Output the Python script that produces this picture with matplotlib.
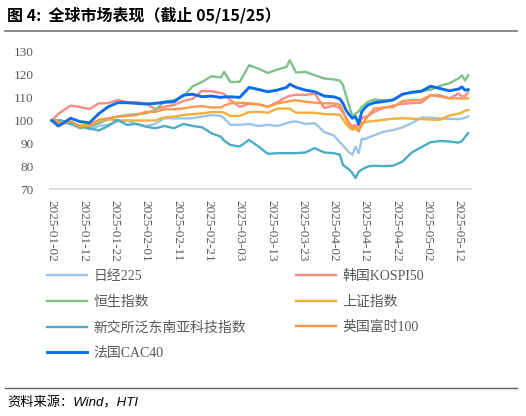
import numpy as np
import pandas as pd
import matplotlib
matplotlib.use("Agg")
import matplotlib.pyplot as plt
import matplotlib.dates as mdates

plt.rcParams['font.family'] = ['Liberation Serif', 'Noto Sans CJK SC', 'DejaVu Sans']

dates = ["2025-01-02", "2025-01-04", "2025-01-05", "2025-01-08", "2025-01-11", "2025-01-14",
         "2025-01-17", "2025-01-20", "2025-01-23", "2025-01-26", "2025-01-29", "2025-02-01",
         "2025-02-04", "2025-02-07", "2025-02-10", "2025-02-13", "2025-02-16", "2025-02-19",
         "2025-02-22", "2025-02-25", "2025-02-26", "2025-02-28", "2025-03-03", "2025-03-06",
         "2025-03-09", "2025-03-12", "2025-03-15", "2025-03-18", "2025-03-19", "2025-03-21",
         "2025-03-24", "2025-03-27", "2025-03-30", "2025-04-02", "2025-04-04", "2025-04-05",
         "2025-04-06", "2025-04-07", "2025-04-08", "2025-04-09", "2025-04-10", "2025-04-11",
         "2025-04-12", "2025-04-13", "2025-04-15", "2025-04-18", "2025-04-21", "2025-04-24",
         "2025-04-27", "2025-04-30", "2025-05-03", "2025-05-06", "2025-05-09", "2025-05-12",
         "2025-05-13", "2025-05-14", "2025-05-15"]

nikkei = [100, 99.8, 99.6, 98.5, 97.6, 96.1, 97.6, 98.1, 99.6, 100, 98.5, 97.6, 98.5, 101, 100.9,
          100.9, 101, 101.7, 102.4, 102, 101, 98.1, 98.1, 98.5, 97.6, 98.1, 97.6, 98.8, 99.3, 99.6,
          98.5, 98.8, 95, 93.5, 90.5, 89, 87.5, 86, 85, 88.6, 85.7, 92, 91.8, 92.5,
          93.5, 95.1, 95.8, 97, 98.8, 101.3, 101.2, 100.9, 100.7, 100.6, 100.8, 101.2, 101.8]
kospi = [100, 102.8, 103.8, 106.5, 105.9, 105, 107.5, 107.6, 109, 108, 108, 107.5, 105, 106, 106.8,
         108.5, 109.5, 113, 112.8, 112, 111.7, 109, 106, 107.3, 107, 106, 108, 110.3, 110.8, 111.3,
         111.2, 111.8, 105.5, 106.5, 105.5, 103.5, 101, 99, 97.3, 98, 97.5, 101, 101.5, 102,
         103.8, 105.5, 106.5, 107.3, 107.6, 107.8, 111, 110.5, 109.7, 111.8, 110.5, 110.8, 112.3]
hangseng = [100, 100, 100, 98.5, 96.6, 97.3, 98.8, 100.5, 101.7, 102.4, 102.8, 103.1, 104.6, 108.2, 108.9,
            110.5, 115, 116.9, 119.4, 118.8, 121.3, 116.9, 116.9, 124.2, 122.7, 120.8, 122.3, 123.5, 126.4, 121,
            121.3, 119.8, 118.4, 118, 117.5, 115.5, 110.8, 106.3, 101.7, 103, 104, 106, 107, 108.2,
            109.2, 108.8, 109, 111.5, 112.6, 112.8, 113.5, 115.2, 116.3, 118.5, 119.8, 117.5, 119.8]
shanghai = [100, 99, 98.5, 99.1, 97.6, 98.5, 100, 100.5, 100, 100, 100, 100, 100, 101.4, 101.7,
            102.4, 102.8, 103.1, 103.7, 103.7, 103.5, 102, 102, 103.7, 103.8, 103.4, 105.2, 105.2, 105.2, 103.4,
            103.4, 103.4, 102.8, 102.7, 102.5, 100.5, 98.5, 97, 95.9, 96.5, 95.3, 98.8, 99.2, 99.5,
            99.8, 100.3, 100.8, 101, 100.8, 100.6, 100.4, 100.3, 102.2, 103, 103.5, 104.3, 104.6]
sgx_tech = [100, 100, 100, 98.5, 97.6, 96.6, 95.6, 97.6, 100.3, 98.1, 98.5, 97.3, 96.6, 97.6, 96.6,
            98.5, 97.6, 97, 94.4, 92.9, 91.2, 89.3, 88.6, 91.5, 88.6, 85.4, 85.7, 85.7, 85.7, 85.7,
            86, 87.9, 86, 85.7, 85, 80.5, 79.5, 78.5, 77, 74.8, 77.5, 78.5, 79.2, 79.9,
            80.2, 80, 80.2, 82, 86, 88.3, 90.5, 91, 90.8, 90.3, 91, 92.8, 94.5]
ftse = [100, 99.5, 99.1, 99.6, 97.6, 97.6, 100.3, 101, 101.7, 102, 102.4, 103.8, 103.8, 104.9, 104.9,
        105.3, 106, 106.3, 105.7, 105.7, 106.5, 107.5, 107.8, 107.5, 107.2, 106, 107.5, 108.2, 108.5, 108.9,
        108.2, 107.8, 107.5, 107.5, 107, 104, 101, 98, 96.6, 97.5, 95.3, 98, 100, 102,
        105.3, 105.6, 105.8, 108.5, 108.9, 109, 111.1, 111.1, 109.7, 109.7, 109.5, 109.7, 109.7]
cac40 = [100, 97.6, 98.3, 101, 99.5, 99, 103, 106, 107.8, 107.8, 107.5, 107.2, 107.5, 108, 108.2,
         111.1, 111.5, 110.4, 110.7, 110.1, 110.3, 110.4, 110.1, 114.5, 113.6, 112.6, 113.3, 114.5, 115.9, 114.5,
         113.3, 112.6, 110.7, 110.4, 109.5, 107.5, 104.5, 102.5, 101, 101.7, 98.5, 103.9, 105.5, 106.8,
         107.8, 108.3, 109, 111.5, 112.3, 112.8, 115, 114, 113, 113.8, 114.7, 113.3, 113.5]

names = ["日经225", "韩国KOSPI50", "恒生指数", "上证指数", "新交所泛东南亚科技指数", "英国富时100", "法国CAC40"]
series = [nikkei, kospi, hangseng, shanghai, sgx_tech, ftse, cac40]
colors = ["#9DC3E6", "#FF8A84", "#7FC08A", "#F0B03C", "#4AACC6", "#F99A4A", "#0A6EE8"]
widths = [1.7, 1.7, 1.7, 1.7, 1.7, 1.7, 2.1]

x = pd.to_datetime(dates)

fig = plt.figure(figsize=(5.26, 4.16), dpi=100)
ax = fig.add_axes([50 / 526, 1 - 189 / 416, 421 / 526, 137 / 416])

lines = {}
for name, vals, c, w in zip(names, series, colors, widths):
    ln, = ax.plot(x, vals, color=c, lw=w, label=name, solid_joinstyle='round')
    lines[name] = ln

start = pd.Timestamp("2025-01-02")
ax.set_xlim(start - pd.Timedelta(days=0.6), start + pd.Timedelta(days=133.9))
ax.set_ylim(70, 130)
ax.set_yticks([70, 80, 90, 100, 110, 120, 130])
ax.set_xticks(pd.date_range(start, periods=14, freq="10D"))
ax.xaxis.set_major_formatter(mdates.DateFormatter("%Y-%m-%d"))

for s in ["top", "right", "left"]:
    ax.spines[s].set_visible(False)
ax.spines["bottom"].set_color("#D9D9D9")
ax.spines["bottom"].set_linewidth(1.3)
ax.tick_params(axis="both", length=0, colors="#595959", labelsize=9.5)
ax.tick_params(axis="x", pad=8)
ax.tick_params(axis="y", pad=12)
for lab in ax.get_xticklabels():
    lab.set_rotation(270)
    lab.set_va("top")
    lab.set_ha("center")

# legend: two columns, left column first
order = ["日经225", "恒生指数", "新交所泛东南亚科技指数", "法国CAC40", "韩国KOSPI50", "上证指数", "英国富时100"]
leg = fig.legend([lines[n] for n in order], order, loc="upper left",
                 bbox_to_anchor=(47 / 526, 1 - 270 / 416), ncol=2, frameon=False,
                 fontsize=10, handlelength=2.9, handletextpad=0.45, columnspacing=3.6,
                 labelspacing=0.9, borderpad=0, borderaxespad=0)
for t in leg.get_texts():
    t.set_color("#595959")

# title and frame lines
fig.text(7 / 526, 1 - 15 / 416, "图 4:  全球市场表现（截止 05/15/25）", fontsize=11.5,
         fontweight="bold", va="center", ha="left", family=["Noto Sans CJK SC", "DejaVu Sans"])
fig.add_artist(plt.Line2D([5 / 526, 517 / 526], [1 - 31 / 416, 1 - 31 / 416], color="#808080", lw=1.3))
fig.add_artist(plt.Line2D([5 / 526, 517 / 526], [1 - 388 / 416, 1 - 388 / 416], color="#606060", lw=1.0))
fig.text(7 / 526, 1 - 403 / 416, "资料来源：Wind，HTI", fontsize=9.5, style="italic",
         va="center", ha="left", family=["Liberation Sans", "Noto Sans CJK SC"])

fig.savefig("out.png", dpi=100)
